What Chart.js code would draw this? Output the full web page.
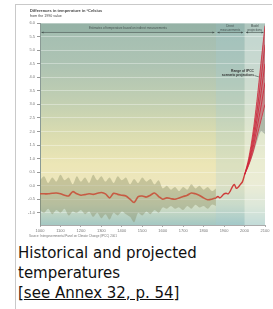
<!DOCTYPE html>
<html><head><meta charset="utf-8">
<script src="https://cdn.jsdelivr.net/npm/chart.js@4/dist/chart.umd.min.js"></script>
<style>
html,body{margin:0;padding:0;background:#fff;width:273px;height:309px;overflow:hidden}
#frame{position:absolute;left:15px;top:4px;width:256px;height:320px;border-top:1px solid #c9c9c9;border-left:1px solid #c9c9c9}
#chart{position:absolute;left:0;top:0}
#cap{position:absolute;left:18px;top:243px;font-family:"DejaVu Sans",Verdana,sans-serif;font-size:15px;line-height:20px;color:#111;white-space:nowrap}
#cap a{color:#111;text-decoration:underline}
</style></head>
<body>
<div id="frame"></div>
<canvas id="chart" width="273" height="242"></canvas>
<div id="cap">Historical and projected<br>temperatures<br>[<a href="#">see Annex 32, p. 54</a>]</div>
<script>
// ---- data ----
const proxyYears = [1000,1020,1040,1060,1080,1100,1120,1140,1160,1180,1200,1220,1240,1260,1280,1300,1320,1340,1360,1380,1400,1420,1440,1460,1480,1500,1520,1540,1560,1580,1600,1620,1640,1660,1680,1700,1720,1740,1760,1780,1800,1820,1840,1860];
const proxyHigh = [0.2,0.35,0.1,0.3,0.15,0.4,0.2,0.3,0.05,0.35,0.15,0.3,0.1,0.4,0.2,0.35,0.15,0.3,0.1,0.35,0.2,0.3,0.05,0.25,0.1,0.3,0.15,0.25,0.05,0.2,-0.1,0.0,-0.15,-0.05,-0.2,-0.05,-0.15,0.05,-0.1,0.0,-0.15,-0.05,-0.2,-0.1];
const proxyLow = [-0.9,-1.0,-0.85,-1.05,-0.9,-1.0,-0.85,-1.1,-0.95,-1.0,-0.9,-1.05,-0.95,-1.15,-1.0,-1.2,-1.05,-1.25,-1.0,-1.1,-0.95,-1.05,-1.15,-1.35,-1.0,-1.1,-0.95,-1.05,-0.9,-1.0,-0.8,-0.85,-0.75,-0.85,-0.8,-0.9,-0.75,-0.85,-0.7,-0.8,-0.75,-0.85,-0.7,-0.75];
const proxyMean = [-0.3,-0.3,-0.3,-0.28,-0.27,-0.3,-0.35,-0.38,-0.22,-0.3,-0.35,-0.33,-0.3,-0.32,-0.28,-0.25,-0.3,-0.45,-0.28,-0.32,-0.35,-0.38,-0.5,-0.62,-0.4,-0.38,-0.42,-0.35,-0.27,-0.4,-0.5,-0.45,-0.48,-0.5,-0.45,-0.4,-0.35,-0.27,-0.3,-0.36,-0.45,-0.52,-0.5,-0.45];
const instYears = [1860,1870,1880,1890,1900,1910,1920,1930,1940,1950,1960,1970,1980,1990,2000];
const instTemp = [-0.45,-0.4,-0.45,-0.38,-0.3,-0.28,-0.3,-0.2,-0.05,0.05,-0.1,-0.05,0.05,0.15,0.4];
const projYears = [2000,2020,2040,2060,2080,2100];
const scenA = [0.4,1.0,1.9,3.1,4.5,5.9];
const scenB = [0.4,0.9,1.7,2.7,3.9,5.2];
const scenC = [0.4,0.85,1.5,2.4,3.4,4.5];
const scenD = [0.4,0.8,1.35,2.1,2.9,3.8];
const scenE = [0.4,0.75,1.2,1.8,2.4,3.0];
const rangeHigh = [0.4,1.0,1.9,3.1,4.6,6.0];
const rangeLow = [0.4,0.72,1.12,1.6,2.0,1.9];
const xTicks = [1000,1100,1200,1300,1400,1500,1600,1700,1800,1900,2000,2100];
const yTicks = [-1.0,-0.5,0.0,0.5,1.0,1.5,2.0,2.5,3.0,3.5,4.0,4.5,5.0,5.5,6.0];
const periodBounds = [1000,1860,2000,2100];
const periodLabels = [["Estimates of temperature based on indirect measurements"],["Direct","measurements"],["Model","projections"]];
const titleText = "Differences in temperature in °Celsius";
const subtitleText = "from the 1990 value";
const sourceText = "Source: Intergovernmental Panel on Climate Change (IPCC) 2001";
const rangeNote = ["Range of IPCC","scenario projections"];

const pts = (xs, ys) => xs.map((x, i) => ({x: x, y: ys[i]}));
const NONE = 'rgba(0,0,0,0)';

const backdrop = {
  id: 'backdrop',
  beforeDraw(chart) {
    const {ctx, chartArea: a, scales: {x, y}} = chart;
    ctx.save();
    const g = ctx.createLinearGradient(0, a.top, 0, a.bottom);
    g.addColorStop(0.00, '#a2bdb1');
    g.addColorStop(0.20, '#adc3b3');
    g.addColorStop(0.40, '#c3d0b2');
    g.addColorStop(0.55, '#dadcb0');
    g.addColorStop(0.70, '#ece6b6');
    g.addColorStop(0.80, '#ede6bd');
    g.addColorStop(0.90, '#d4dec4');
    g.addColorStop(1.00, '#a4c8c3');
    ctx.fillStyle = g;
    ctx.fillRect(a.left, a.top, a.width, a.height);
    const p1 = x.getPixelForValue(periodBounds[1]);
    const p2 = x.getPixelForValue(periodBounds[2]);
    const p3 = x.getPixelForValue(periodBounds[3]);
    ctx.fillStyle = 'rgba(160,205,225,0.22)';
    ctx.fillRect(p1, a.top, p2 - p1, a.height);
    ctx.fillStyle = 'rgba(232,245,245,0.45)';
    ctx.fillRect(p2, a.top, p3 - p2, a.height);
    const sb = y.getPixelForValue(5.65);
    ctx.fillStyle = 'rgba(90,125,115,0.16)';
    ctx.fillRect(a.left, a.top, a.width, sb - a.top);
    ctx.restore();
  },
  afterDraw(chart) {
    const {ctx, chartArea: a, scales: {x, y}} = chart;
    ctx.save();
    ctx.fillStyle = '#444';
    ctx.textBaseline = 'middle';
    ctx.textAlign = 'left';
    ctx.font = 'bold 4px "Liberation Sans", Arial';
    ctx.fillText(titleText, 30, 11);
    ctx.font = '3.6px "Liberation Sans", Arial';
    ctx.fillText(subtitleText, 30, 16);
    ctx.font = '3px "Liberation Sans", Arial';
    ctx.fillStyle = '#777';
    ctx.fillText(sourceText, 29, 236);
    const sb = y.getPixelForValue(5.65);
    ctx.strokeStyle = '#56635f';
    ctx.fillStyle = '#465250';
    ctx.lineWidth = 0.7;
    for (let i = 0; i < 3; i++) {
      const l = x.getPixelForValue(periodBounds[i]) + 1.5;
      const r = x.getPixelForValue(periodBounds[i + 1]) - 1.5;
      ctx.beginPath(); ctx.moveTo(l, sb); ctx.lineTo(r, sb); ctx.stroke();
      ctx.beginPath(); ctx.moveTo(l, sb); ctx.lineTo(l + 2, sb - 1.1); ctx.lineTo(l + 2, sb + 1.1); ctx.closePath(); ctx.fill();
      ctx.beginPath(); ctx.moveTo(r, sb); ctx.lineTo(r - 2, sb - 1.1); ctx.lineTo(r - 2, sb + 1.1); ctx.closePath(); ctx.fill();
      const c = (l + r) / 2;
      ctx.textAlign = 'center';
      ctx.font = '3px "Liberation Sans", Arial';
      const lines = periodLabels[i];
      if (lines.length === 1) ctx.fillText(lines[0], c, a.top + 5);
      else { ctx.fillText(lines[0], c, a.top + 3.5); ctx.fillText(lines[1], c, a.top + 7); }
    }
    ctx.textAlign = 'right';
    ctx.font = 'bold 3.3px "Liberation Sans", Arial';
    ctx.fillStyle = '#333';
    ctx.fillText(rangeNote[0], 254, 71);
    ctx.fillText(rangeNote[1], 254, 75.5);
    ctx.beginPath(); ctx.moveTo(254.5, 75.5); ctx.lineTo(259, 77); ctx.stroke();
    ctx.restore();
  }
};

new Chart(document.getElementById('chart'), {
  type: 'line',
  data: {
    datasets: [
      {data: pts(proxyYears, proxyLow), borderColor: NONE, borderWidth: 0, fill: false, order: 8},
      {data: pts(proxyYears, proxyHigh), borderColor: NONE, borderWidth: 0, fill: 0, backgroundColor: 'rgba(128,132,92,0.36)', order: 8},
      {data: pts(projYears, rangeLow), borderColor: NONE, borderWidth: 0, fill: false, order: 7},
      {data: pts(projYears, rangeHigh), borderColor: NONE, borderWidth: 0, fill: 2, backgroundColor: 'rgba(120,130,122,0.45)', order: 7},
      {data: pts(projYears, scenE), borderColor: '#d3283c', borderWidth: 0.8, fill: false, order: 3},
      {data: pts(projYears, scenA), borderColor: '#d3283c', borderWidth: 0.8, fill: 4, backgroundColor: 'rgba(225,70,90,0.45)', order: 3},
      {data: pts(projYears, scenB), borderColor: '#cf2236', borderWidth: 0.8, fill: false, order: 2},
      {data: pts(projYears, scenC), borderColor: '#cf2236', borderWidth: 0.8, fill: false, order: 2},
      {data: pts(projYears, scenD), borderColor: '#cf2236', borderWidth: 0.8, fill: false, order: 2},
      {data: pts(proxyYears, proxyMean), borderColor: 'rgba(200,80,58,0.9)', borderWidth: 1.6, fill: false, order: 1},
      {data: pts(instYears, instTemp), borderColor: 'rgba(205,50,50,0.95)', borderWidth: 1.4, fill: false, order: 1}
    ]
  },
  options: {
    responsive: false,
    animation: false,
    devicePixelRatio: 1,
    layout: {padding: {top: 23, right: 8, left: 0, bottom: 0}},
    elements: {point: {radius: 0}, line: {tension: 0.3}},
    plugins: {legend: {display: false}, tooltip: {enabled: false}, title: {display: false}},
    scales: {
      x: {
        type: 'linear', min: 1000, max: 2100,
        afterBuildTicks: s => { s.ticks = xTicks.map(v => ({value: v})); },
        afterFit: s => { s.height = 17; },
        ticks: {font: {size: 4, family: 'Liberation Sans'}, color: '#777', padding: 1, maxRotation: 0, autoSkip: false, callback: v => String(v)},
        grid: {drawOnChartArea: false, tickLength: 2, color: '#aaa'},
        border: {display: true, color: '#aaa'}
      },
      y: {
        type: 'linear', min: -1.45, max: 6,
        afterBuildTicks: s => { s.ticks = yTicks.map(v => ({value: v})); },
        afterFit: s => { s.width = 40; },
        ticks: {font: {size: 4, family: 'Liberation Sans'}, color: '#777', padding: 2, autoSkip: false, callback: v => v.toFixed(1)},
        grid: {color: 'rgba(255,255,255,0.35)', tickLength: 3, tickColor: '#999'},
        border: {display: true, color: '#8a9a95'}
      }
    }
  },
  plugins: [backdrop]
});
</script>
</body></html>
